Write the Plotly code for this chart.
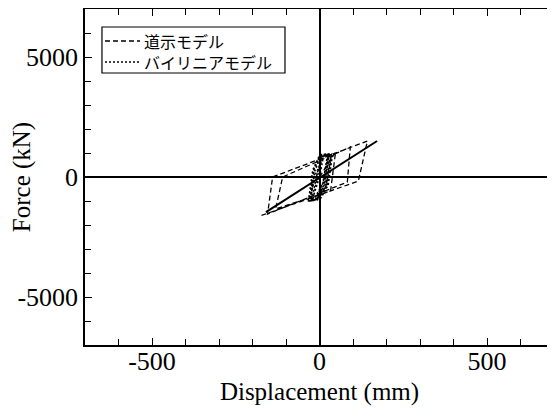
import plotly.graph_objects as go

# 道示モデル (dashed hysteresis path), displacement mm / force kN
doji_x = [0, 48, 33, -131, -110, 92, 83, -155, -140, 143, 116, -181]
doji_y = [0, 1040, -580, -1330, 0, 1250, -210, -1540, 0, 1500, -170, -1640]

# バイリニアモデル (dotted hysteresis path)
bil_x = [0, 12, 30, 14, -8, -28, -14, 4, 36, 22, -2, -33, -20, 0, 24, 10, -12, -24,
         -6, 10, 39, 26, 4, -30, -18, 2, 28, 16, -6, -20, -4, 8, 33, 18, -10, -26,
         -16, 6, 26, 12, -14, -30, -10, 14, 36, 20, -4, -22, 0]
bil_y = [0, 880, 960, -300, -920, -1000, 250, 850, 940, -380, -900, -980, 300, 900, 930, -260,
         -940, -1000, 200, 880, 950, -330, -880, -1000, 280, 920, 960, -280, -950, -980,
         150, 860, 900, -420, -960, -990, 350, 940, 960, -200, -880, -1000, 180, 900,
         950, -350, -920, -970, 0]

# solid reference line
solid_x = [-160, 172]
solid_y = [-1460, 1500]

x_ticks = [-500, 0, 500]
y_ticks = [-5000, 0, 5000]

legend_names = ["道示モデル", "バイリニアモデル"]

DASH = "5px,3px"
DOT = "2px,2px"

fig = go.Figure()
fig.add_trace(go.Scatter(x=doji_x, y=doji_y, mode="lines", name=legend_names[0], showlegend=False,
                         line=dict(color="black", width=1.3, dash=DASH)))
fig.add_trace(go.Scatter(x=bil_x, y=bil_y, mode="lines", name=legend_names[1], showlegend=False,
                         line=dict(color="black", width=1.5, dash=DOT)))
fig.add_trace(go.Scatter(x=solid_x, y=solid_y, mode="lines", showlegend=False,
                         line=dict(color="black", width=2)))

serif = "Liberation Serif"
axis_common = dict(
    showgrid=False, showline=True, linecolor="black", linewidth=1.5, mirror="ticks",
    ticks="inside", ticklen=7, tickcolor="black", tickwidth=1,
    zeroline=True, zerolinecolor="black", zerolinewidth=1.5,
    tickfont=dict(family=serif, size=26, color="black"),
    automargin=False,
)
fig.update_xaxes(range=[-700, 700], tickvals=x_ticks, ticktext=[str(v) for v in x_ticks],
                 minor=dict(dtick=100, tick0=0, ticks="inside", ticklen=6, tickcolor="black"),
                 title=dict(text="Displacement (mm)", font=dict(family=serif, size=25, color="black"),
                            standoff=8),
                 ticklabelstandoff=-8, **axis_common)
fig.update_yaxes(range=[-7000, 7000], tickvals=y_ticks, ticktext=[str(v) for v in y_ticks],
                 minor=dict(dtick=1000, tick0=0, ticks="inside", ticklen=6, tickcolor="black"),
                 title=dict(text="Force (kN)", font=dict(family=serif, size=25, color="black"),
                            standoff=0),
                 ticklabelstandoff=0, **axis_common)

# manual legend box (paper coordinates of the plot area)
fig.add_shape(type="rect", xref="paper", yref="paper", x0=0.0362, x1=0.4264, y0=0.8095, y1=0.9464,
              line=dict(color="black", width=1.2), fillcolor="white", layer="above")
for yy, dash in [(0.9048, DASH), (0.8423, DOT)]:
    fig.add_shape(type="line", xref="paper", yref="paper", x0=0.0426, x1=0.1173, y0=yy, y1=yy,
                  line=dict(color="black", width=1.3, dash=dash), layer="above")
fig.add_annotation(xref="paper", yref="paper", x=0.1237, y=0.8735,
                   text="<br>".join(legend_names), showarrow=False,
                   xanchor="left", yanchor="middle", align="left", borderpad=0,
                   font=dict(family="Noto Sans CJK JP", size=16, color="black"))

fig.update_layout(
    width=547, height=410,
    margin=dict(l=77, r=1, t=1, b=73),
    plot_bgcolor="white", paper_bgcolor="white",
)

fig.write_html("out.html")
